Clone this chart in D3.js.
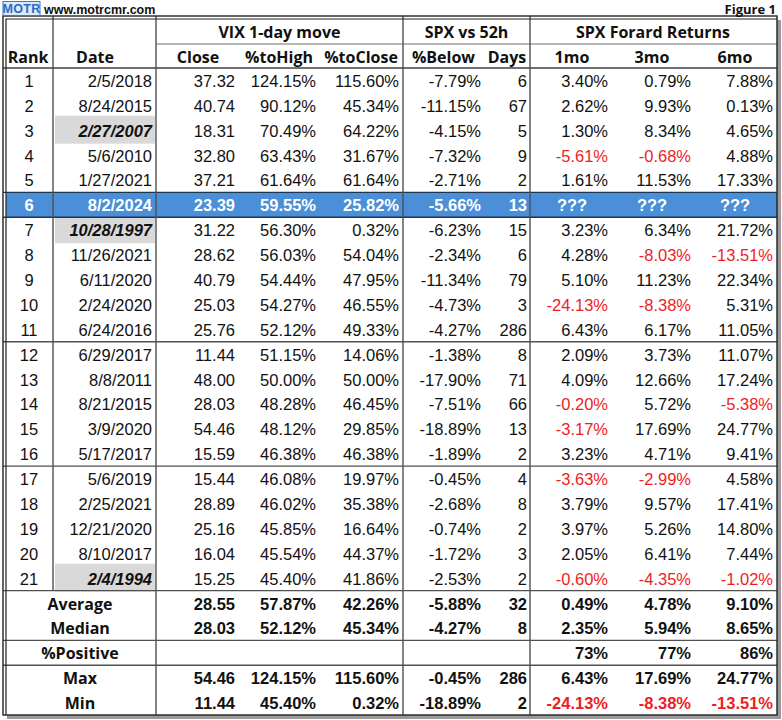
<!DOCTYPE html>
<html>
<head>
<meta charset="utf-8">
<script src="https://cdn.jsdelivr.net/npm/d3@7"></script>
<style>
  html, body { margin: 0; padding: 0; background: #ffffff; }
  svg { display: block; }
</style>
</head>
<body>
<svg id="chart" width="782" height="720"></svg>
<script>
// ---------------- DATA ----------------
const ranks = d3.range(1, 22);
const dates = ["2/5/2018","8/24/2015","2/27/2007","5/6/2010","1/27/2021","8/2/2024","10/28/1997","11/26/2021","6/11/2020","2/24/2020","6/24/2016","6/29/2017","8/8/2011","8/21/2015","3/9/2020","5/17/2017","5/6/2019","2/25/2021","12/21/2020","8/10/2017","2/4/1994"];
const vixClose = [37.32,40.74,18.31,32.80,37.21,23.39,31.22,28.62,40.79,25.03,25.76,11.44,48.00,28.03,54.46,15.59,15.44,28.89,25.16,16.04,15.25];
const pctToHigh = [124.15,90.12,70.49,63.43,61.64,59.55,56.30,56.03,54.44,54.27,52.12,51.15,50.00,48.28,48.12,46.38,46.08,46.02,45.85,45.54,45.40];
const pctToClose = [115.60,45.34,64.22,31.67,61.64,25.82,0.32,54.04,47.95,46.55,49.33,14.06,50.00,46.45,29.85,46.38,19.97,35.38,16.64,44.37,41.86];
const pctBelow = [-7.79,-11.15,-4.15,-7.32,-2.71,-5.66,-6.23,-2.34,-11.34,-4.73,-4.27,-1.38,-17.90,-7.51,-18.89,-1.89,-0.45,-2.68,-0.74,-1.72,-2.53];
const daysBelow = [6,67,5,9,2,13,15,6,79,3,286,8,71,66,13,2,4,8,2,3,2];
const ret1mo = [3.40,2.62,1.30,-5.61,1.61,null,3.23,4.28,5.10,-24.13,6.43,2.09,4.09,-0.20,-3.17,3.23,-3.63,3.79,3.97,2.05,-0.60];
const ret3mo = [0.79,9.93,8.34,-0.68,11.53,null,6.34,-8.03,11.23,-8.38,6.17,3.73,12.66,5.72,17.69,4.71,-2.99,9.57,5.26,6.41,-4.35];
const ret6mo = [7.88,0.13,4.65,4.88,17.33,null,21.72,-13.51,22.34,5.31,11.05,11.07,17.24,-5.38,24.77,9.41,4.58,17.41,14.80,7.44,-1.02];
const highlightedRank = 6;
const shadedDateRanks = [3, 7, 21];

const groupHeaders = ["VIX 1-day move", "SPX vs 52h", "SPX Forard Returns"];
const columnHeaders = ["Close", "%toHigh", "%toClose", "%Below", "Days", "1mo", "3mo", "6mo"];

const summaryLabels = ["Average", "Median", "%Positive", "Max", "Min"];
const summaryClose   = [28.55, 28.03, null, 54.46, 11.44];
const summaryToHigh  = [57.87, 52.12, null, 124.15, 45.40];
const summaryToClose = [42.26, 45.34, null, 115.60, 0.32];
const summaryBelow   = [-5.88, -4.27, null, -0.45, -18.89];
const summaryDays    = [32, 8, null, 286, 2];
const summary1mo     = [0.49, 2.35, 73, 6.43, -24.13];
const summary3mo     = [4.78, 5.94, 77, 17.69, -8.38];
const summary6mo     = [9.10, 8.65, 86, 24.77, -13.51];

// ---------------- LAYOUT ----------------
const svg = d3.select("#chart");
const L = 3, R = 777, T = 16, B = 715;
const HEAD_MID = 44, HEAD_BOT = 68;
const dataFont = "'Liberation Sans', Arial, sans-serif";
const headFont = "'Open Sans', Lato, sans-serif";
const RED = "#ee1c25";

const colKeys = ["close","toHigh","toClose","below","days","m1","m3","m6"];
const xRight = d3.scaleOrdinal().domain(colKeys).range([235, 316, 399, 481, 527, 608, 691, 773]);
const xHead = d3.scaleOrdinal().domain(colKeys).range([198, 279, 361, 443.5, 507, 572, 652, 735]);
const xGroup = d3.scaleOrdinal().domain(groupHeaders).range([279.5, 466.5, 653]);
const nRows = ranks.length + summaryLabels.length;
const y = d3.scaleBand().domain(d3.range(nRows)).range([HEAD_BOT, B]).padding(0);
const yc = i => y(i) + y.bandwidth() / 2 + 0.5;

const X_RANK = 53, X_DATE = 156, X_SPX = 403, X_FWD = 530;

// shadow + frame
svg.append("rect").attr("x", L + 4).attr("y", T + 4).attr("width", R - L).attr("height", B - T)
  .attr("fill", "#9a9a9a");
svg.append("rect").attr("x", L).attr("y", T).attr("width", R - L).attr("height", B - T)
  .attr("fill", "#ffffff");

// shaded date cells
svg.selectAll("rect.shade").data(shadedDateRanks).join("rect")
  .attr("class", "shade")
  .attr("x", X_RANK + 2).attr("width", X_DATE - X_RANK - 3)
  .attr("y", d => y(d - 1) - 2).attr("height", y.bandwidth() + 3)
  .attr("fill", "#d9d9d9");

// highlighted row
svg.append("rect")
  .attr("x", L + 3).attr("width", R - L - 3)
  .attr("y", y(highlightedRank - 1)).attr("height", y.bandwidth())
  .attr("fill", "#4a8fd8");

// ---------------- LINES ----------------
const lineColor = "#505050";
const hLines = [
  {y: HEAD_MID, x1: X_DATE, x2: R, c: "#707070", w: 1},
  {y: HEAD_BOT, x1: L, x2: R, c: "#404040", w: 1.4},
  {y: y(highlightedRank - 1), x1: L, x2: R, c: "#1e3550", w: 1.4},
  {y: y(highlightedRank), x1: L, x2: R, c: "#1e3550", w: 1.4},
  {y: y(11), x1: L, x2: R, c: lineColor, w: 1.4},
  {y: y(16), x1: L, x2: R, c: lineColor, w: 1.4},
  {y: y(21), x1: L, x2: R, c: lineColor, w: 1.4},
  {y: y(23), x1: L, x2: R, c: lineColor, w: 1.4},
  {y: y(24), x1: L, x2: R, c: lineColor, w: 1.4}
];
svg.selectAll("line.h").data(hLines).join("line").attr("class", "h")
  .attr("x1", d => d.x1).attr("x2", d => d.x2).attr("y1", d => d.y).attr("y2", d => d.y)
  .attr("stroke", d => d.c).attr("stroke-width", d => d.w);

const vLines = [
  {x: X_RANK, y1: T, y2: y(21)},
  {x: X_DATE, y1: T, y2: B},
  {x: X_SPX, y1: T, y2: B},
  {x: X_FWD, y1: T, y2: B}
];
svg.selectAll("line.v").data(vLines).join("line").attr("class", "v")
  .attr("x1", d => d.x).attr("x2", d => d.x).attr("y1", d => d.y1).attr("y2", d => d.y2)
  .attr("stroke", lineColor).attr("stroke-width", 1.4);

// outer double border
svg.append("rect").attr("x", L).attr("y", T).attr("width", R - L).attr("height", B - T)
  .attr("fill", "none").attr("stroke", "#222").attr("stroke-width", 1.4);
svg.append("path").attr("d", `M${L + 3},${B} V${T + 3} H${R}`)
  .attr("fill", "none").attr("stroke", "#222").attr("stroke-width", 1.2);

// ---------------- TOP TEXT ----------------
const logo = svg.append("g");
logo.append("rect").attr("x", 3).attr("y", 1.5).attr("width", 37).attr("height", 14)
  .attr("fill", "#dce9f8").attr("stroke", "#3a78c8").attr("stroke-width", 1);
logo.append("text").attr("x", 21.5).attr("y", 13).attr("text-anchor", "middle")
  .attr("font-family", dataFont).attr("font-weight", "bold").attr("font-size", 12.5)
  .attr("fill", "#2a6cc4").attr("letter-spacing", 0.3).text("MOTR");
svg.append("text").attr("x", 44).attr("y", 13.5)
  .attr("font-family", dataFont).attr("font-weight", "bold").attr("font-size", 12.5)
  .attr("fill", "#111").text("www.motrcmr.com");
svg.append("text").attr("x", 776).attr("y", 13.5).attr("text-anchor", "end")
  .attr("font-family", headFont).attr("font-weight", "bold").attr("font-size", 13)
  .attr("fill", "#111").text("Figure 1");

// ---------------- HEADERS ----------------
const headStyle = sel => sel.attr("font-family", headFont).attr("font-weight", "bold")
  .attr("font-size", 16).attr("fill", "#111").attr("dominant-baseline", "central")
  .attr("text-anchor", "middle");

svg.selectAll("text.group").data(groupHeaders).join("text").attr("class", "group")
  .attr("x", d => xGroup(d)).attr("y", 32).call(headStyle).text(d => d);
svg.selectAll("text.colhead").data(columnHeaders).join("text").attr("class", "colhead")
  .attr("x", (d, i) => xHead(colKeys[i])).attr("y", 57).call(headStyle).text(d => d);
svg.append("text").attr("x", 28).attr("y", 57).call(headStyle).text("Rank");
svg.append("text").attr("x", 95).attr("y", 57).call(headStyle).text("Date");

// ---------------- DATA ROWS ----------------
const f2 = v => v.toFixed(2);
const fp = v => v.toFixed(2) + "%";
const rows = ranks.map((r, i) => ({
  i, rank: r, date: dates[i],
  vals: [
    {k: "close", v: vixClose[i], f: f2},
    {k: "toHigh", v: pctToHigh[i], f: fp},
    {k: "toClose", v: pctToClose[i], f: fp},
    {k: "below", v: pctBelow[i], f: fp},
    {k: "days", v: daysBelow[i], f: v => String(v)},
    {k: "m1", v: ret1mo[i], f: fp, ret: true},
    {k: "m3", v: ret3mo[i], f: fp, ret: true},
    {k: "m6", v: ret6mo[i], f: fp, ret: true}
  ]
}));

const rowG = svg.selectAll("g.row").data(rows).join("g").attr("class", "row");
rowG.each(function(d) {
  const g = d3.select(this);
  const hl = d.rank === highlightedRank;
  const shaded = shadedDateRanks.includes(d.rank);
  const base = sel => sel.attr("font-family", dataFont).attr("font-size", 16.5)
    .attr("dominant-baseline", "central").attr("y", yc(d.i))
    .attr("font-weight", hl ? "bold" : "normal");
  g.append("text").call(base).attr("x", 29).attr("text-anchor", "middle")
    .attr("fill", hl ? "#fff" : "#111").text(d.rank);
  g.append("text").call(base).attr("x", 152).attr("text-anchor", "end")
    .attr("font-weight", hl || shaded ? "bold" : "normal")
    .attr("font-style", shaded ? "italic" : "normal")
    .attr("fill", hl ? "#fff" : "#111").text(d.date);
  g.selectAll("text.val").data(d.vals).join("text").attr("class", "val").call(base)
    .attr("x", v => v.v === null ? xHead(v.k) : xRight(v.k))
    .attr("text-anchor", v => v.v === null ? "middle" : "end")
    .attr("fill", v => hl ? "#fff" : (v.ret && v.v < 0 ? RED : "#111"))
    .text(v => v.v === null ? "???" : v.f(v.v));
});

// ---------------- SUMMARY ROWS ----------------
const sumRows = summaryLabels.map((lab, j) => ({
  i: ranks.length + j, label: lab,
  vals: [
    {k: "close", v: summaryClose[j], f: f2},
    {k: "toHigh", v: summaryToHigh[j], f: fp},
    {k: "toClose", v: summaryToClose[j], f: fp},
    {k: "below", v: summaryBelow[j], f: fp},
    {k: "days", v: summaryDays[j], f: v => String(v)},
    {k: "m1", v: summary1mo[j], f: lab === "%Positive" ? (v => v + "%") : fp, ret: true},
    {k: "m3", v: summary3mo[j], f: lab === "%Positive" ? (v => v + "%") : fp, ret: true},
    {k: "m6", v: summary6mo[j], f: lab === "%Positive" ? (v => v + "%") : fp, ret: true}
  ].filter(v => v.v !== null)
}));
const sumG = svg.selectAll("g.sum").data(sumRows).join("g").attr("class", "sum");
sumG.each(function(d) {
  const g = d3.select(this);
  g.append("text").attr("x", 80).attr("y", yc(d.i)).call(headStyle).text(d.label);
  g.selectAll("text.val").data(d.vals).join("text").attr("class", "val")
    .attr("font-family", dataFont).attr("font-size", 16.5).attr("font-weight", "bold")
    .attr("dominant-baseline", "central").attr("y", yc(d.i))
    .attr("x", v => xRight(v.k)).attr("text-anchor", "end")
    .attr("fill", v => v.ret && v.v < 0 ? RED : "#111")
    .text(v => v.f(v.v));
});
</script>
</body>
</html>
